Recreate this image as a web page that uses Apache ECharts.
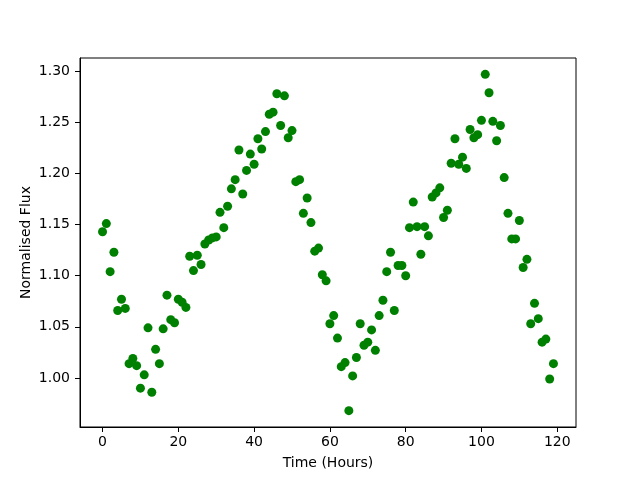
<!DOCTYPE html>
<html>
<head>
<meta charset="utf-8">
<script src="https://cdn.jsdelivr.net/npm/echarts@6/dist/echarts.min.js"></script>
<style>
  html, body { margin: 0; padding: 0; background: #fff; }
  #flux_chart { width: 640px; height: 480px; }
</style>
</head>
<body>
<div id="flux_chart"></div>
<script>
// hourly samples, time 0..119
var hours = [];
for (var h = 0; h < 120; h++) hours.push(h);

var flux = [
    1.143, 1.151, 1.104, 1.123, 1.066, 1.077, 1.068, 1.014, 1.019, 1.012,
    0.990, 1.003, 1.049, 0.986, 1.028, 1.014, 1.048, 1.081, 1.057, 1.054,
    1.077, 1.074, 1.069, 1.119, 1.105, 1.120, 1.111, 1.131, 1.135, 1.137,
    1.138, 1.162, 1.147, 1.168, 1.185, 1.194, 1.223, 1.180, 1.203, 1.219,
    1.209, 1.234, 1.224, 1.241, 1.258, 1.260, 1.278, 1.247, 1.276, 1.235,
    1.242, 1.192, 1.194, 1.161, 1.176, 1.152, 1.124, 1.127, 1.101, 1.095,
    1.053, 1.061, 1.039, 1.011, 1.015, 0.968, 1.002, 1.020, 1.053, 1.032,
    1.035, 1.047, 1.027, 1.061, 1.076, 1.104, 1.123, 1.066, 1.110, 1.110,
    1.100, 1.147, 1.172, 1.148, 1.121, 1.148, 1.139, 1.177, 1.181, 1.186,
    1.157, 1.164, 1.210, 1.234, 1.209, 1.216, 1.205, 1.243, 1.235, 1.238,
    1.252, 1.297, 1.279, 1.251, 1.232, 1.247, 1.196, 1.161, 1.136, 1.136,
    1.154, 1.108, 1.116, 1.053, 1.073, 1.058, 1.035, 1.038, 0.999, 1.014
];

var xTicks = [0, 20, 40, 60, 80, 100, 120];
var yTicks = [1.00, 1.05, 1.10, 1.15, 1.20, 1.25, 1.30];

var points = hours.map(function (t, i) { return [t, flux[i]]; });

var fluxChart = echarts.init(document.getElementById('flux_chart'));
var fluxOption = {
    animation: false,
    textStyle: { fontFamily: 'DejaVu Sans' },
    grid: {
        left: 80, right: 64, top: 58, bottom: 53,
        show: true, borderColor: '#000', borderWidth: 1
    },
    xAxis: {
        type: 'value',
        min: -5.95,
        max: 124.95,
        name: 'Time (Hours)',
        nameLocation: 'middle',
        nameGap: 29,
        nameMoveOverlap: false,
        nameTextStyle: { color: '#000', fontSize: 14 },
        axisLine: { show: true, onZero: false, lineStyle: { color: '#000' } },
        axisTick: { show: true, inside: false, length: 5, customValues: xTicks, lineStyle: { color: '#000' } },
        axisLabel: { customValues: xTicks, color: '#000', fontSize: 14, margin: 8 },
        splitLine: { show: false }
    },
    yAxis: {
        type: 'value',
        min: 0.952,
        max: 1.313,
        name: 'Normalised Flux',
        nameLocation: 'middle',
        nameGap: 47,
        nameRotate: 90,
        nameMoveOverlap: false,
        nameTextStyle: { color: '#000', fontSize: 14 },
        axisLine: { show: true, onZero: false, lineStyle: { color: '#000' } },
        axisTick: { show: true, inside: false, length: 5, customValues: yTicks, lineStyle: { color: '#000' } },
        axisLabel: {
            customValues: yTicks, color: '#000', fontSize: 14, margin: 10,
            formatter: function (v) { return v.toFixed(2); }
        },
        splitLine: { show: false }
    },
    series: [
        {
            name: 'flux',
            type: 'scatter',
            symbol: 'circle',
            symbolSize: 9,
            itemStyle: { color: '#008000', opacity: 1 },
            data: points
        }
    ]
};

fluxChart.setOption(fluxOption);
</script>
</body>
</html>
